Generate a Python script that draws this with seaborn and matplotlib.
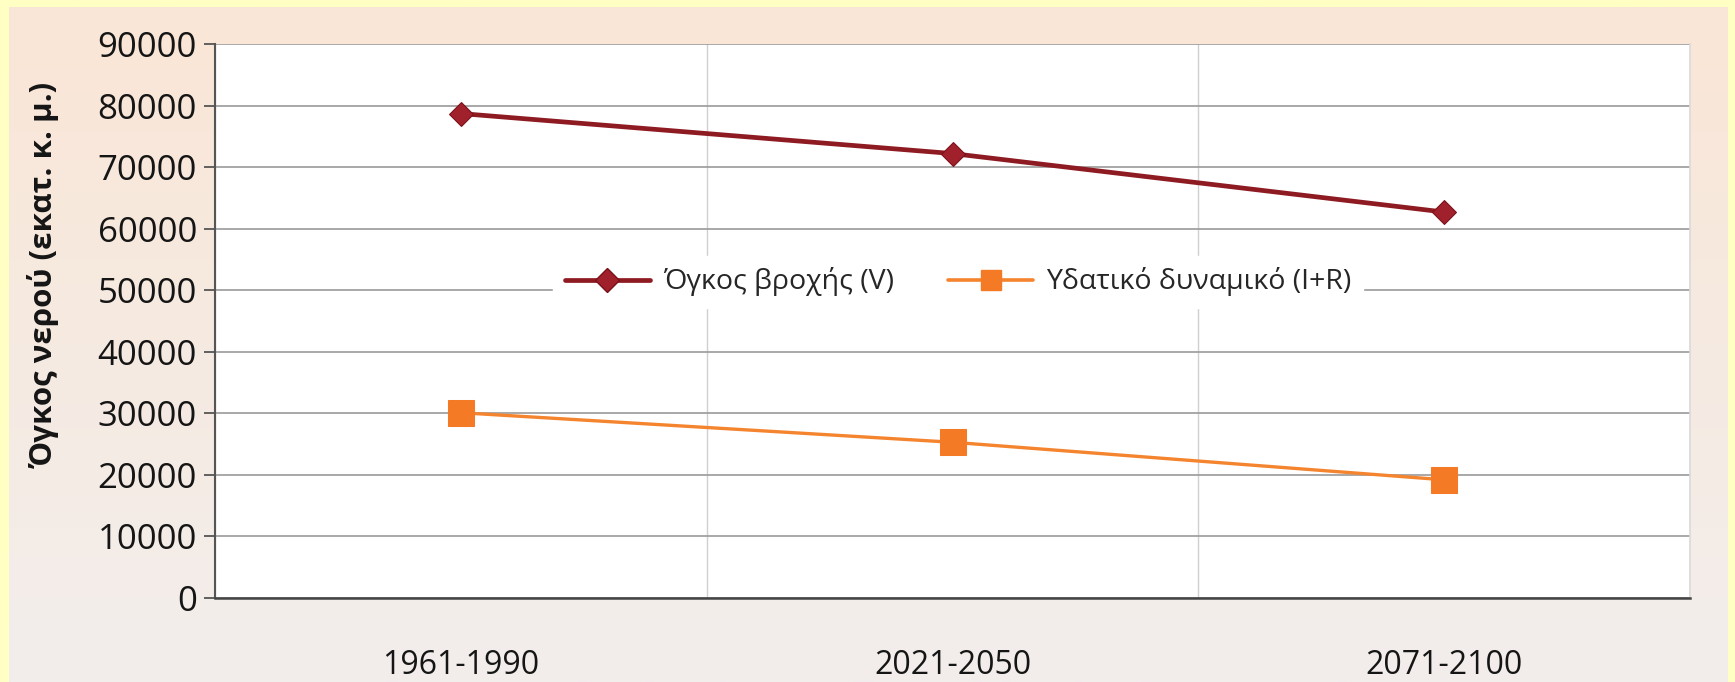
import numpy as np
import pandas as pd
import matplotlib
matplotlib.use("Agg")
import matplotlib.pyplot as plt
import seaborn as sns

# data
periods = ["1961-1990", "2021-2050", "2071-2100"]
rain_volume = [78700, 72200, 62700]
water_potential = [30100, 25300, 19200]
series_names = ["Όγκος βροχής (V)", "Υδατικό δυναμικό (I+R)"]
y_ticks = [0, 10000, 20000, 30000, 40000, 50000, 60000, 70000, 80000, 90000]

df = pd.DataFrame({
    "period": periods * 2,
    "value": rain_volume + water_potential,
    "series": [series_names[0]] * 3 + [series_names[1]] * 3,
})

sns.set_style("white")
plt.rcParams["font.family"] = ["Open Sans", "DejaVu Sans"]

W, H = 1735, 682
fig = plt.figure(figsize=(W / 100, H / 100), dpi=100)
fig.patch.set_facecolor("#FFFFC4")

# peach-to-grey chart background inside the yellow frame
bg = fig.add_axes([9 / W, 0, (W - 17) / W, (H - 7) / H])
grad = np.linspace(0, 1, 256).reshape(-1, 1)
top = np.array([250, 230, 214]) / 255
bottom = np.array([242, 238, 236]) / 255
img = top[None, None, :] * (1 - grad[..., None]) + bottom[None, None, :] * grad[..., None]
bg.imshow(img, aspect="auto", extent=[0, 1, 0, 1])
bg.set_axis_off()

ax = fig.add_axes([215 / W, 1 - 598 / H, (1690 - 215) / W, (598 - 44) / H])
ax.set_facecolor("white")

red, orange = "#8E1B22", "#F5842E"
sns.lineplot(
    data=df, x="period", y="value", hue="series", style="series",
    palette={series_names[0]: red, series_names[1]: orange},
    markers={series_names[0]: "D", series_names[1]: "s"},
    dashes=False, ax=ax, legend=False,
)
lines = ax.get_lines()
lines[0].set_linewidth(3.4)
lines[0].set_markersize(12)
lines[0].set_markerfacecolor("#A0202C")
lines[0].set_markeredgecolor("#7A1018")
lines[1].set_linewidth(2.4)
lines[1].set_markersize(19)
lines[1].set_markerfacecolor("#F47A26")
lines[1].set_markeredgecolor("#F47A26")

ax.set_xlim(-0.5, 2.5)
ax.set_ylim(0, 90000)
ax.set_yticks(y_ticks)
ax.set_yticklabels([str(v) for v in y_ticks])
ax.set_xticks(range(len(periods)))
ax.set_xticklabels(periods)
ax.set_xticks([-0.5, 0.5, 1.5, 2.5], minor=True)

ax.grid(axis="y", color="#9A9A9A", linewidth=1.2)
ax.grid(axis="x", which="minor", color="#D0D0D0", linewidth=1.0)
ax.set_axisbelow(True)

ax.spines["top"].set_visible(False)
ax.spines["right"].set_color("#DADADA")
ax.spines["right"].set_linewidth(1.2)
ax.spines["left"].set_color("#555555")
ax.spines["bottom"].set_color("#444444")
ax.spines["left"].set_linewidth(1.5)
ax.spines["bottom"].set_linewidth(1.8)

ax.tick_params(axis="y", which="major", length=8, width=1.3, color="#555555",
               labelsize=25, labelcolor="#151515", pad=5)
ax.tick_params(axis="x", which="major", length=0, labelsize=23,
               labelcolor="#151515", pad=37)
ax.tick_params(axis="x", which="minor", length=8, width=1.3, color="#555555")
ax.tick_params(left=True, bottom=True)

ax.set_xlabel("")
ax.set_ylabel("Όγκος νερού (εκατ. κ. μ.)", fontsize=22.5, fontweight="bold",
              color="#151515")
ax.yaxis.set_label_coords((60 - 215) / (1690 - 215), (598 - 275) / (598 - 44))

handles = [
    plt.Line2D([], [], color=red, lw=3.4, marker="D", markersize=12,
               markerfacecolor="#A0202C", markeredgecolor="#7A1018"),
    plt.Line2D([], [], color=orange, lw=2.6, marker="s", markersize=15,
               markerfacecolor="#F47A26", markeredgecolor="#F47A26"),
]
leg = ax.legend(handles, series_names, loc="center",
                bbox_to_anchor=(958 / W, 1 - 282 / H),
                bbox_transform=fig.transFigure, ncol=2, frameon=True,
                fontsize=20.5, handlelength=3.0, columnspacing=1.9,
                handletextpad=0.45, borderpad=0.4)
leg.get_frame().set_facecolor("white")
leg.get_frame().set_edgecolor("white")
leg.get_frame().set_alpha(1)

fig.savefig("out.png", dpi=100, facecolor=fig.get_facecolor())
